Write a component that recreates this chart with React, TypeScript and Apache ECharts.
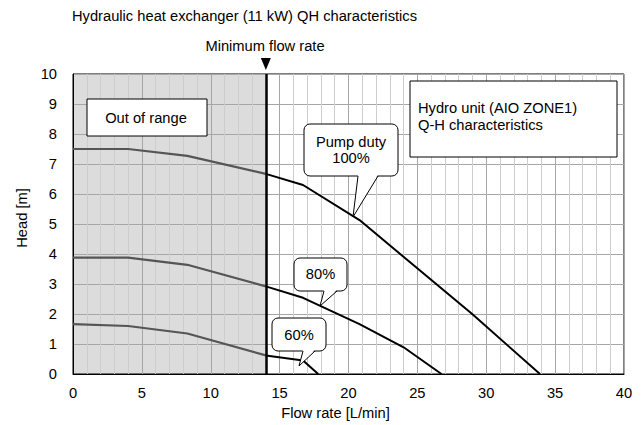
import React, { useEffect, useRef } from "react";
import * as echarts from "echarts";

const flow100 = [0, 4, 8.3, 14, 16.7, 20.8, 29, 33.9];
const head100 = [7.5, 7.5, 7.27, 6.67, 6.3, 5.13, 1.99, 0];
const flow80 = [0, 4, 8.3, 14, 16.7, 20.8, 24, 26.75];
const head80 = [3.88, 3.88, 3.64, 2.92, 2.54, 1.66, 0.89, 0];
const flow60 = [0, 4, 8.3, 14, 16.7, 17.8];
const head60 = [1.66, 1.6, 1.35, 0.62, 0.45, 0];
const minFlow = 14;
const xTicks = [0, 5, 10, 15, 20, 25, 30, 35, 40];
const yTicks = [0, 1, 2, 3, 4, 5, 6, 7, 8, 9, 10];

const FONT = "Arial, 'Liberation Sans', sans-serif";
const FS = 14.7;

function parts(xs: number[], ys: number[]) {
  const inside: number[][] = [];
  const outside: number[][] = [];
  xs.forEach((x, i) => {
    if (x <= minFlow) inside.push([x, ys[i]]);
    if (x >= minFlow) outside.push([x, ys[i]]);
  });
  return { inside, outside };
}

function callout(
  rx: number, ry: number, rw: number, rh: number,
  b1: number, b2: number, tx: number, ty: number,
  text: string, cy: number
) {
  const bottom = ry + rh;
  return [
    {
      type: "rect",
      shape: { x: rx, y: ry, width: rw, height: rh, r: 6 },
      style: { fill: "#fff", stroke: "#000", lineWidth: 1 },
      z: 100,
    },
    {
      type: "polygon",
      shape: { points: [[b1, bottom - 1.5], [tx, ty], [b2, bottom - 1.5]] },
      style: { fill: "#fff" },
      z: 101,
    },
    {
      type: "polyline",
      shape: { points: [[b1, bottom], [tx, ty], [b2, bottom]] },
      style: { stroke: "#000", lineWidth: 1, fill: null },
      z: 102,
    },
    {
      type: "text",
      x: rx + rw / 2,
      y: cy,
      style: {
        text,
        fill: "#000",
        font: `${FS}px ${FONT}`,
        align: "center",
        verticalAlign: "middle",
        lineHeight: 16.5,
      },
      z: 103,
    },
  ];
}

export default function App() {
  const ref = useRef<HTMLDivElement>(null);
  useEffect(() => {
    if (!ref.current) return;
    const chart = echarts.init(ref.current, undefined, { renderer: "svg" });
    const curves = [
      parts(flow100, head100),
      parts(flow80, head80),
      parts(flow60, head60),
    ];
    const series: any[] = [
      {
        type: "line",
        data: [],
        silent: true,
        markArea: {
          silent: true,
          z: -1,
          itemStyle: { color: "#dcdcdc" },
          data: [[{ xAxis: 0 }, { xAxis: minFlow }]],
        },
        markLine: {
          silent: true,
          symbol: "none",
          z: 10,
          label: { show: false },
          lineStyle: { color: "#000", width: 2.5, type: "solid" },
          data: [{ xAxis: minFlow }],
        },
        markPoint: {
          silent: true,
          symbol: "triangle",
          symbolSize: [10, 12],
          symbolRotate: 180,
          symbolOffset: [0, -10],
          itemStyle: { color: "#000" },
          label: { show: false },
          data: [{ coord: [minFlow, 10] }],
        },
      },
    ];
    curves.forEach((c) => {
      series.push({
        type: "line",
        data: c.inside,
        symbol: "none",
        silent: true,
        lineStyle: { color: "#555", width: 2.2 },
        z: 3,
      });
      series.push({
        type: "line",
        data: c.outside,
        symbol: "none",
        silent: true,
        lineStyle: { color: "#000", width: 2 },
        z: 3,
      });
    });

    const graphic: any[] = [
      {
        type: "text",
        x: 72,
        y: 16,
        style: {
          text: "Hydraulic heat exchanger (11 kW) QH characteristics",
          fill: "#000",
          font: `${FS}px ${FONT}`,
          align: "left",
          verticalAlign: "middle",
        },
      },
      {
        type: "text",
        x: 265,
        y: 46,
        style: {
          text: "Minimum flow rate",
          fill: "#000",
          font: `${FS}px ${FONT}`,
          align: "center",
          verticalAlign: "middle",
        },
      },
      {
        type: "rect",
        shape: { x: 87, y: 99, width: 120, height: 37 },
        style: { fill: "#fff", stroke: "#000", lineWidth: 1 },
        z: 100,
      },
      {
        type: "text",
        x: 146,
        y: 117.5,
        style: {
          text: "Out of range",
          fill: "#000",
          font: `${FS}px ${FONT}`,
          align: "center",
          verticalAlign: "middle",
        },
        z: 101,
      },
      {
        type: "rect",
        shape: { x: 410, y: 81, width: 207, height: 76 },
        style: { fill: "#fff", stroke: "#000", lineWidth: 1 },
        z: 100,
      },
      {
        type: "text",
        x: 418,
        y: 116.5,
        style: {
          text: "Hydro unit (AIO ZONE1)\nQ-H characteristics",
          fill: "#000",
          font: `${FS}px ${FONT}`,
          align: "left",
          verticalAlign: "middle",
          lineHeight: 16.5,
        },
        z: 101,
      },
      ...callout(304, 124, 94, 52, 358, 378, 353, 217, "Pump duty\n100%", 150),
      ...callout(294, 258, 53, 33, 324, 337, 320, 306, "80%", 274),
      ...callout(272, 318, 54, 33, 303, 315, 299, 366, "60%", 335),
    ];

    chart.setOption({
      animation: false,
      backgroundColor: "#fff",
      grid: {
        left: 73,
        right: 17,
        top: 74,
        bottom: 48,
        show: true,
        borderColor: "#000",
        borderWidth: 1,
        backgroundColor: "transparent",
      },
      xAxis: {
        type: "value",
        min: xTicks[0],
        max: xTicks[xTicks.length - 1],
        interval: 5,
        name: "Flow rate [L/min]",
        nameLocation: "middle",
        nameGap: 31,
        nameTextStyle: {
          color: "#000",
          fontSize: FS,
          fontFamily: FONT,
          padding: [0, 26, 0, 0],
        },
        axisLine: { show: true, lineStyle: { color: "#000", width: 1 } },
        axisTick: { show: false },
        axisLabel: { color: "#000", fontSize: FS, fontFamily: FONT, margin: 11 },
        splitLine: { show: true, lineStyle: { color: "#a6a6a6", width: 1 } },
        minorTick: { show: false, splitNumber: 5 },
        minorSplitLine: { show: true, lineStyle: { color: "#cdcdcd", width: 1 } },
      },
      yAxis: {
        type: "value",
        min: yTicks[0],
        max: yTicks[yTicks.length - 1],
        interval: 1,
        name: "Head [m]",
        nameLocation: "middle",
        nameGap: 34,
        nameTextStyle: {
          color: "#000",
          fontSize: FS,
          fontFamily: FONT,
          padding: [0, 0, 0, 12],
        },
        axisLine: { show: true, lineStyle: { color: "#000", width: 1 } },
        axisTick: { show: false },
        axisLabel: { color: "#000", fontSize: FS, fontFamily: FONT, margin: 16 },
        splitLine: { show: true, lineStyle: { color: "#a6a6a6", width: 1 } },
      },
      series,
      graphic,
    });
    return () => chart.dispose();
  }, []);
  return (
    <div
      ref={ref}
      style={{ position: "absolute", left: 0, top: 0, width: 641, height: 425 }}
    />
  );
}
